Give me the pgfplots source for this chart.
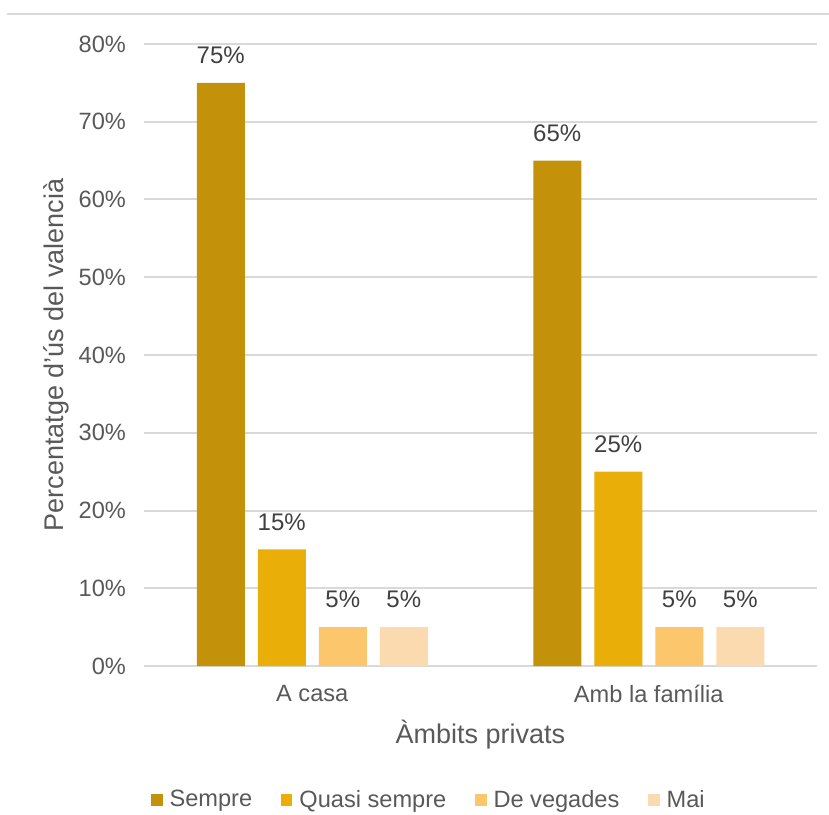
\documentclass[border=0pt]{standalone}
\usepackage{pgfplots}
\pgfplotsset{compat=1.18}
\usepackage{fontspec}
\setmainfont{Liberation Sans}
\definecolor{c1}{RGB}{196,146,10}
\definecolor{c2}{RGB}{233,174,8}
\definecolor{c3}{RGB}{251,198,108}
\definecolor{c4}{RGB}{252,218,176}
\definecolor{txt}{RGB}{89,89,89}
\definecolor{lbl}{RGB}{64,64,64}
\definecolor{grd}{RGB}{217,217,217}
\begin{document}
\begin{tikzpicture}
\useasboundingbox (0pt,0pt) rectangle (414.5pt,407pt);
\draw[grd,line width=1pt] (3.5pt,400pt) -- (414.5pt,400pt);
\begin{axis}[
  at={(72pt,74pt)}, anchor=south west,
  scale only axis, width=336.5pt, height=311pt,
  ymin=0, ymax=80, xmin=-0.5, xmax=1.5,
  ybar=6.5pt, bar width=24pt,
  xtick=data, xticklabels={A casa, Amb la família},
  ytick={0,10,...,80},
  yticklabel={\pgfmathprintnumber{\tick}\%},
  /pgf/number format/assume math mode=true,
  ymajorgrids, grid style={grd,line width=1pt},
  axis line style={draw=none},
  axis x line*=bottom,
  x axis line style={grd,line width=1pt},
  tick style={draw=none},
  ticklabel style={font=\fontsize{11.8}{13}\selectfont, text=txt},
  yticklabel style={xshift=-5.5pt},
  xticklabel style={yshift=-2pt},
  xlabel={Àmbits privats},
  ylabel={Percentatge d'ús del valencià},
  label style={font=\fontsize{13.5}{15}\selectfont, text=txt},
  xlabel style={yshift=-1.5pt},
  ylabel style={yshift=-2pt},
  nodes near coords={\pgfmathprintnumber{\pgfplotspointmeta}\%},
  every node near coord/.append style={font=\fontsize{12}{13}\selectfont, text=lbl, yshift=6pt},
  legend style={at={(0.425,-0.2154)}, anchor=center, draw=none, fill=none,
    font=\fontsize{11.8}{13}\selectfont, text=txt, legend columns=4,
    /tikz/every odd column/.append style={column sep=1.5pt},
    /tikz/every even column/.append style={column sep=12.5pt}},
  legend image code/.code={\fill[#1] (0pt,-2.8pt) rectangle (5.6pt,2.8pt);},
  clip=false,
]
\addplot[fill=c1, draw=none] coordinates {(0,75) (1,65)};
\addplot[fill=c2, draw=none] coordinates {(0,15) (1,25)};
\addplot[fill=c3, draw=none] coordinates {(0,5) (1,5)};
\addplot[fill=c4, draw=none] coordinates {(0,5) (1,5)};
\legend{Sempre, Quasi sempre, De vegades, Mai}
\end{axis}
\end{tikzpicture}
\end{document}
